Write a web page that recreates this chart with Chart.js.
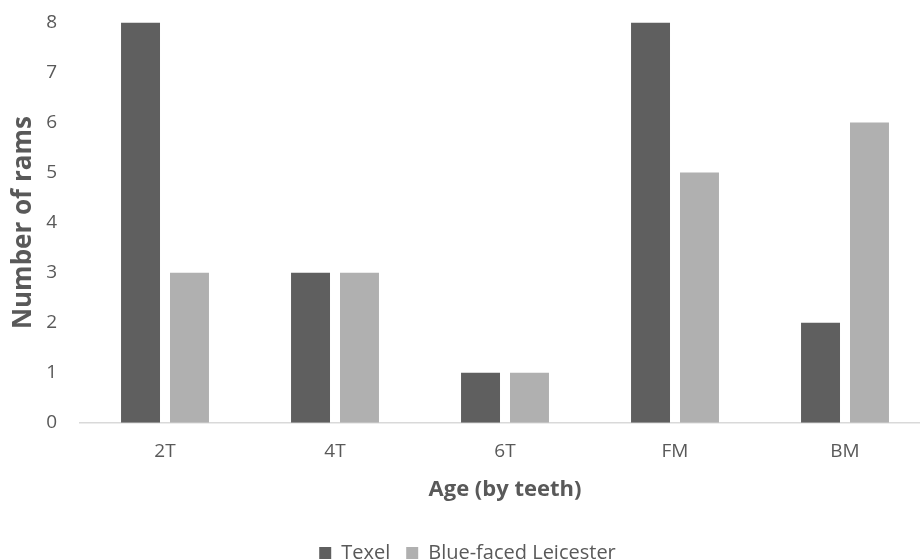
<!DOCTYPE html>
<html>
<head>
<meta charset="utf-8">
<script src="https://cdn.jsdelivr.net/npm/chart.js@4/dist/chart.umd.min.js"></script>
<style>
  html, body { margin: 0; padding: 0; background: #ffffff; overflow: hidden; }
  #wrap { width: 920px; height: 560px; overflow: hidden; position: relative; }
  #grafico { position: absolute; left: 0; top: -12px; }
</style>
</head>
<body>
<div id="wrap"><canvas id="grafico" width="940" height="585"></canvas></div>
<script>
// Datos
var categorias = ['2T', '4T', '6T', 'FM', 'BM'];
var texel = [8, 3, 1, 8, 2];
var leicester = [3, 3, 1, 5, 6];
var ticks_y = [0, 1, 2, 3, 4, 5, 6, 7, 8];

var fuente = '"Open Sans", "Noto Sans", sans-serif';
var gris_texto = '#595959';

var ctx = document.getElementById('grafico').getContext('2d');
var myChart = new Chart(ctx, {
    type: 'bar',
    data: {
        labels: categorias,
        datasets: [{
            label: 'Texel',
            data: texel,
            backgroundColor: '#5f5f5f',
            categoryPercentage: 0.576,
            barPercentage: 0.796
        }, {
            label: 'Blue-faced Leicester',
            data: leicester,
            backgroundColor: '#b0b0b0',
            categoryPercentage: 0.576,
            barPercentage: 0.796
        }]
    },
    options: {
        responsive: false,
        animation: false,
        layout: { padding: { top: -2, right: 10, left: 5, bottom: 0 } },
        scales: {
            x: {
                grid: { display: false, drawTicks: false },
                border: { display: true, color: '#d9d9d9', width: 1.5 },
                ticks: { color: gris_texto, font: { family: fuente, size: 19 }, padding: 17 },
                title: {
                    display: true,
                    text: 'Age (by teeth)',
                    color: gris_texto,
                    font: { family: fuente, size: 22, weight: 'bold' },
                    padding: { top: -3, bottom: 24 }
                }
            },
            y: {
                min: ticks_y[0],
                max: ticks_y[ticks_y.length - 1],
                afterBuildTicks: function (axis) {
                    axis.ticks = ticks_y.map(function (v) { return { value: v }; });
                },
                afterFit: function (axis) { axis.width = 75; },
                grid: { display: false, drawTicks: false },
                border: { display: false },
                ticks: { color: gris_texto, font: { family: fuente, size: 19 }, padding: 23 },
                title: {
                    display: true,
                    text: 'Number of rams',
                    color: gris_texto,
                    font: { family: fuente, size: 26, weight: 'bold' },
                    padding: { top: 3, bottom: 0 }
                }
            }
        },
        plugins: {
            legend: {
                position: 'bottom',
                labels: {
                    color: gris_texto,
                    font: { family: fuente, size: 20 },
                    boxWidth: 12,
                    boxHeight: 12,
                    padding: 16
                }
            },
            tooltip: { enabled: false }
        }
    }
});
</script>
</body>
</html>
